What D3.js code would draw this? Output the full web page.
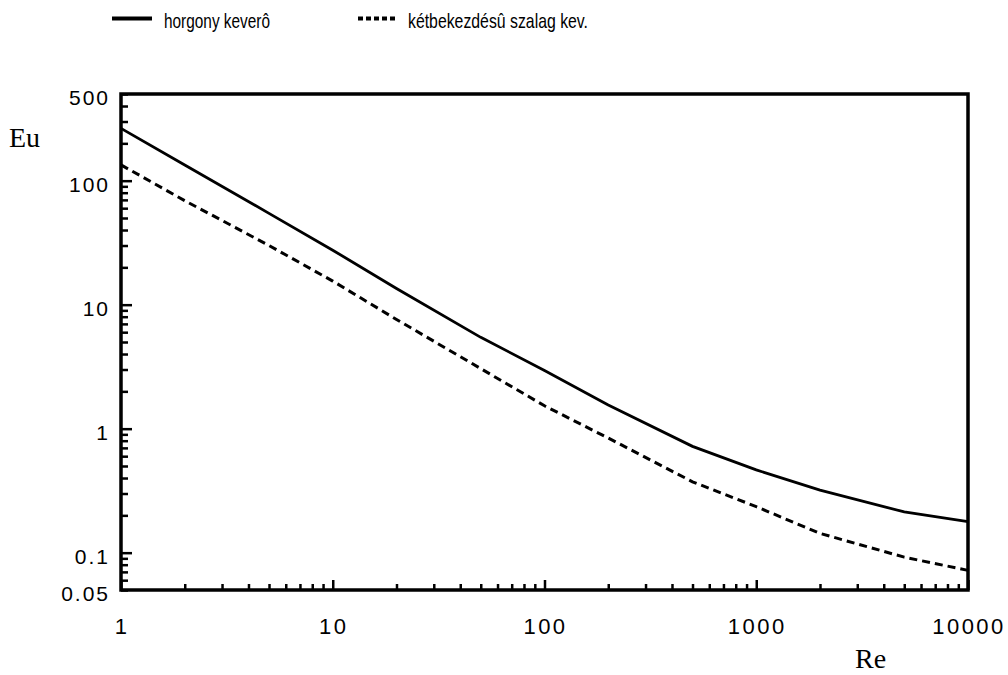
<!DOCTYPE html>
<html>
<head>
<meta charset="utf-8">
<script src="https://cdnjs.cloudflare.com/ajax/libs/d3/7.8.5/d3.min.js"></script>
<style>
  body { margin: 0; background: #fff; }
  svg { display: block; }
</style>
</head>
<body>
<svg id="chart" width="1008" height="675"></svg>
<script>
// Re values and the two Eu curves
var reValues = [1, 2, 5, 10, 20, 50, 100, 200, 500, 1000, 2000, 5000, 10000];
var euHorgony = [264, 134, 54.5, 27.5, 13.5, 5.45, 2.95, 1.55, 0.72, 0.465, 0.32, 0.213, 0.178];
var euSzalag = [134, 69, 30, 15.5, 7.6, 3.05, 1.53, 0.84, 0.373, 0.235, 0.143, 0.092, 0.072];

var seriesNames = ['horgony keverô', 'kétbekezdésû szalag kev.'];
var xTickLabels = [1, 10, 100, 1000, 10000];
var yTickLabels = [0.05, 0.1, 1, 10, 100, 500];

var svg = d3.select('#chart');
var plotLeft = 121, plotRight = 968, plotTop = 94, plotBottom = 590;

var x = d3.scaleLog().domain([1, 10000]).range([plotLeft, plotRight]);
var y = d3.scaleLog().domain([0.05, 500]).range([plotBottom, plotTop]);

var xMinor = x.ticks().filter(function(v) { return xTickLabels.indexOf(v) < 0; });
var yMajor = [0.1, 1, 10, 100];
var yMinor = y.ticks().filter(function(v) { return yMajor.indexOf(v) < 0; });

function tickStyle(g) {
  g.select('.domain').remove();
  g.selectAll('.tick line').attr('stroke', '#000').attr('stroke-width', 2.5);
  g.selectAll('.tick text').remove();
}

// x ticks, pointing into the plot
svg.append('g').attr('transform', 'translate(0,' + plotBottom + ')')
  .call(d3.axisBottom(x).tickValues(xMinor).tickSize(-6).tickFormat('')).call(tickStyle);
svg.append('g').attr('transform', 'translate(0,' + plotBottom + ')')
  .call(d3.axisBottom(x).tickValues(xTickLabels).tickSize(-10).tickFormat('')).call(tickStyle);

// y ticks
svg.append('g').attr('transform', 'translate(' + plotLeft + ',0)')
  .call(d3.axisLeft(y).tickValues(yMinor).tickSize(-7).tickFormat('')).call(tickStyle);
svg.append('g').attr('transform', 'translate(' + plotLeft + ',0)')
  .call(d3.axisLeft(y).tickValues(yMajor).tickSize(-11).tickFormat('')).call(tickStyle);

// frame
svg.append('rect')
  .attr('x', plotLeft).attr('y', plotTop)
  .attr('width', plotRight - plotLeft).attr('height', plotBottom - plotTop)
  .attr('fill', 'none').attr('stroke', '#000').attr('stroke-width', 3.5);

// tick labels
svg.selectAll('.xlab').data(xTickLabels).enter().append('text')
  .attr('class', 'xlab')
  .attr('x', function(d) { return x(d) + 1; })
  .attr('y', 634)
  .attr('text-anchor', 'middle')
  .attr('font-family', 'Liberation Sans, Arial, sans-serif')
  .attr('font-size', 22)
  .attr('letter-spacing', 2.5)
  .text(function(d) { return d; });

svg.selectAll('.ylab').data(yTickLabels).enter().append('text')
  .attr('class', 'ylab')
  .attr('x', 110)
  .attr('y', function(d) { return y(d) + 11; })
  .attr('text-anchor', 'end')
  .attr('font-family', 'Liberation Sans, Arial, sans-serif')
  .attr('font-size', 21)
  .attr('letter-spacing', 2)
  .text(function(d) { return d; });

// axis titles
svg.append('text').attr('x', 9).attr('y', 147)
  .attr('font-family', 'Liberation Serif, Times New Roman, serif')
  .attr('font-size', 28).text('Eu');
svg.append('text').attr('x', 855).attr('y', 668)
  .attr('font-family', 'Liberation Serif, Times New Roman, serif')
  .attr('font-size', 28).text('Re');

// curves
var line = d3.line()
  .x(function(d) { return x(d[0]); })
  .y(function(d) { return y(d[1]); });

svg.append('path')
  .datum(d3.zip(reValues, euHorgony))
  .attr('d', line)
  .attr('fill', 'none').attr('stroke', '#000').attr('stroke-width', 2.8);

svg.append('path')
  .datum(d3.zip(reValues, euSzalag))
  .attr('d', line)
  .attr('fill', 'none').attr('stroke', '#000').attr('stroke-width', 3)
  .attr('stroke-dasharray', '8,5');

// legend
svg.append('line').attr('x1', 112).attr('x2', 152).attr('y1', 18.5).attr('y2', 18.5)
  .attr('stroke', '#000').attr('stroke-width', 4);
svg.append('text').attr('x', 164).attr('y', 28)
  .attr('font-family', 'Liberation Sans, Arial, sans-serif')
  .attr('font-size', 21)
  .attr('textLength', 106).attr('lengthAdjust', 'spacingAndGlyphs')
  .text(seriesNames[0]);

svg.append('line').attr('x1', 358).attr('x2', 396).attr('y1', 18.5).attr('y2', 18.5)
  .attr('stroke', '#000').attr('stroke-width', 4)
  .attr('stroke-dasharray', '5,3');
svg.append('text').attr('x', 408).attr('y', 28)
  .attr('font-family', 'Liberation Sans, Arial, sans-serif')
  .attr('font-size', 21)
  .attr('textLength', 180).attr('lengthAdjust', 'spacingAndGlyphs')
  .text(seriesNames[1]);
</script>
</body>
</html>
